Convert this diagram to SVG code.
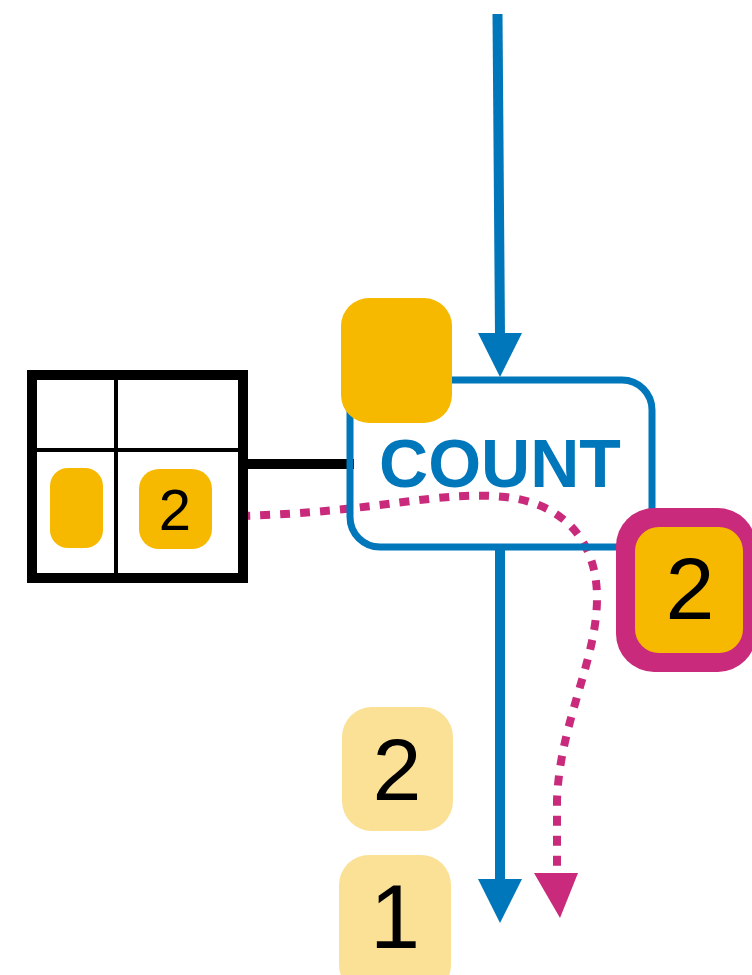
<svg xmlns="http://www.w3.org/2000/svg" width="752" height="975" viewBox="0 0 752 975">
  <defs>
    <style>
      .flow { stroke: #0077BB; stroke-width: 10; fill: none; }
      .dots { stroke: #C92A7B; stroke-width: 8; fill: none; stroke-dasharray: 10 10; }
      .num { font-family: "Liberation Sans", Arial, sans-serif; fill: #000; text-anchor: middle; }
      .tok { fill: #F6B900; }
      .tok-light { fill: #FBE196; }
    </style>
    <marker id="blueHead" viewBox="0 0 44 44" refX="22" refY="44" markerWidth="44" markerHeight="44" markerUnits="userSpaceOnUse" orient="auto-start-reverse">
      <path d="M0,0 L44,0 L22,44 Z" fill="#0077BB"/>
    </marker>
  </defs>

  <!-- connectors -->
  <g id="connectors">
    <line class="flow" x1="497.5" y1="14" x2="500" y2="336"/>
    <path d="M478,333 L522,333 L500,377 Z" fill="#0077BB"/>
    <line class="flow" x1="500" y1="547" x2="500" y2="882"/>
    <path d="M478,879 L522,879 L500,923 Z" fill="#0077BB"/>
    <line x1="243" y1="464" x2="354" y2="464" stroke="#000" stroke-width="10"/>
    <path class="dots" d="M240,516 C380,512 440,490 505,497 C568,504 596,545 597,595 C598,660 560,720 557,800 L557,876"/>
    <path d="M534,873 L578,873 L560,918 Z" fill="#C92A7B"/>
  </g>

  <!-- COUNT operator -->
  <g id="count">
    <rect x="350" y="380" width="302" height="167" rx="30" fill="none" stroke="#0077BB" stroke-width="7"/>
    <text x="500" y="487" font-family="Liberation Sans, Arial, sans-serif" font-weight="bold" font-size="68" fill="#0077BB" text-anchor="middle">COUNT</text>
  </g>

  <!-- token waiting at the input -->
  <g id="token-in">
    <rect class="tok" x="341" y="298" width="111" height="125" rx="28"/>
  </g>

  <!-- state table -->
  <g id="table">
    <rect x="32" y="375" width="211" height="203" fill="#fff" stroke="#000" stroke-width="10"/>
    <line x1="116" y1="375" x2="116" y2="578" stroke="#000" stroke-width="4"/>
    <line x1="32" y1="450" x2="243" y2="450" stroke="#000" stroke-width="4"/>
    <rect class="tok" x="50" y="468" width="53" height="80" rx="18"/>
    <rect class="tok" x="139" y="469" width="73" height="80" rx="20"/>
    <text class="num" x="175" y="530" font-size="58">2</text>
  </g>

  <!-- highlighted output token -->
  <g id="token-out">
    <rect x="616" y="508" width="140" height="164" rx="38" fill="#C92A7B"/>
    <rect class="tok" x="635" y="527" width="108" height="126" rx="24"/>
    <text class="num" x="690" y="619" font-size="88">2</text>
  </g>

  <!-- emitted tokens -->
  <g id="emitted-2">
    <rect class="tok-light" x="342" y="707" width="111" height="124" rx="30"/>
    <text class="num" x="397" y="800" font-size="88">2</text>
  </g>
  <g id="emitted-1">
    <rect class="tok-light" x="339" y="855" width="112" height="140" rx="30"/>
    <text class="num" x="395" y="948" font-size="90">1</text>
  </g>
</svg>
